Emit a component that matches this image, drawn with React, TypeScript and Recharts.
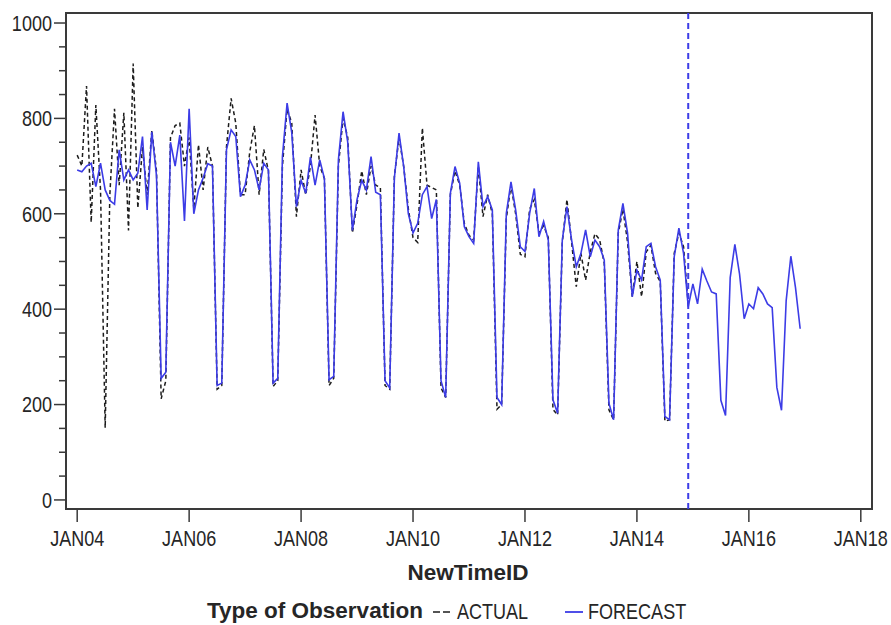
import { LineChart, Line, XAxis, YAxis, ReferenceLine, ReferenceArea } from "recharts";

// monthly values from JAN04; actual ends DEC14, forecast runs to DEC16
const actual = [
  723, 700, 868, 582, 828, 650, 151, 640, 820, 660, 812, 565,
  915, 612, 740, 640, 775, 690, 212, 250, 760, 785, 790, 700,
  760, 610, 745, 650, 740, 700, 232, 240, 740, 842, 790, 640,
  640, 730, 785, 640, 735, 690, 238, 250, 700, 820, 790, 594,
  692, 640, 700, 807, 700, 674, 240, 255, 700, 800, 760, 560,
  620, 690, 640, 700, 660, 655, 240, 232, 678, 760, 699, 610,
  550, 540, 780, 660, 655, 650, 235, 215, 640, 690, 660, 580,
  555, 545, 700, 594, 640, 600, 190, 200, 590, 660, 600, 515,
  510, 610, 630, 560, 575, 550, 190, 178, 540, 630, 540, 447,
  517, 461, 520, 558, 546, 496, 189, 168, 559, 610, 540, 426,
  500, 426, 520, 534, 475, 458, 165, 168, 517, 560, 531, 410,
];

const forecast = [
  692, 688, 700, 706, 657, 706, 650, 628, 620, 734, 671, 692,
  671, 685, 762, 608, 772, 680, 255, 268, 750, 700, 765, 585,
  820, 600, 650, 675, 705, 700, 240, 245, 734, 776, 762, 636,
  660, 713, 692, 650, 706, 692, 245, 255, 720, 832, 770, 615,
  670, 643, 719, 660, 713, 674, 252, 259, 713, 814, 750, 565,
  630, 670, 650, 720, 645, 640, 250, 235, 675, 769, 699, 600,
  560, 580, 640, 657, 590, 630, 250, 215, 643, 699, 664, 573,
  552, 538, 709, 615, 636, 608, 215, 200, 601, 667, 608, 531,
  521, 601, 653, 552, 584, 545, 210, 182, 545, 615, 545, 489,
  517, 566, 510, 545, 531, 503, 203, 168, 566, 622, 559, 426,
  482, 461, 531, 538, 489, 461, 175, 168, 510, 570, 517, 405,
  453, 411, 484, 459, 436, 432, 209, 177, 466, 536, 474, 380,
  411, 401, 445, 432, 411, 403, 236, 188, 418, 511, 445, 359,
];

const xTicks = [0, 24, 48, 72, 96, 120, 144, 168];
const xTickLabels = ["JAN04", "JAN06", "JAN08", "JAN10", "JAN12", "JAN14", "JAN16", "JAN18"];
const yTicks = [
  0, 50, 100, 150, 200, 250, 300, 350, 400, 450, 500,
  550, 600, 650, 700, 750, 800, 850, 900, 950, 1000,
];
const lastActualMonth = 131;

const data = forecast.map((f, i) => ({
  month: i,
  actual: i < actual.length ? actual[i] : null,
  forecast: f,
}));

const X_DOMAIN: [number, number] = [-2.4, 170.4];
const Y_DOMAIN: [number, number] = [-19, 1021];
const FRAME = "#3a3a3a";
const BLUE = "#3c3ce6";
const INK = "#262626";
const FONT = "Arial, 'Liberation Sans', sans-serif";

// condensed label: regular face squeezed horizontally around its anchor point
function NarrowText({ x, y, anchor = "start", dy, children }: any) {
  return (
    <text
      transform={`translate(${x} ${y}) scale(0.82 1)`}
      dy={dy}
      textAnchor={anchor}
      fontSize={22}
      fill={INK}
      fontFamily={FONT}
    >
      {children}
    </text>
  );
}

function YTick(props: any) {
  const { x, y, payload } = props;
  const major = payload.value % 200 === 0;
  return (
    <g>
      <line x1={x} x2={x - (major ? 12 : 7)} y1={y} y2={y} stroke={FRAME} strokeWidth={1.5} />
      {major && (
        <NarrowText x={x - 14} y={y} dy="0.36em" anchor="end">
          {payload.value}
        </NarrowText>
      )}
    </g>
  );
}

function XTick(props: any) {
  const { x, y, payload } = props;
  const idx = xTicks.indexOf(payload.value);
  return (
    <g>
      <line x1={x} x2={x} y1={y} y2={y + 13} stroke={FRAME} strokeWidth={1.5} />
      <NarrowText x={x} y={y + 37} anchor="middle">
        {xTickLabels[idx]}
      </NarrowText>
    </g>
  );
}

export default function App() {
  return (
    <div style={{ position: "absolute", left: 0, top: 0, width: 891, height: 625, background: "#fff" }}>
      <LineChart width={891} height={625} data={data} margin={{ top: 13, right: 19, left: 10, bottom: 76 }}>
        <XAxis
          dataKey="month"
          type="number"
          domain={X_DOMAIN}
          ticks={xTicks}
          allowDataOverflow
          axisLine={false}
          tickLine={false}
          tickSize={0}
          tickMargin={0}
          height={40}
          tick={<XTick />}
        />
        <YAxis
          type="number"
          domain={Y_DOMAIN}
          ticks={yTicks}
          allowDataOverflow
          axisLine={false}
          tickLine={false}
          tickSize={0}
          tickMargin={0}
          width={56}
          tick={<YTick />}
          interval={0}
        />
        <ReferenceArea
          x1={X_DOMAIN[0]}
          x2={X_DOMAIN[1]}
          y1={Y_DOMAIN[0]}
          y2={Y_DOMAIN[1]}
          fill="none"
          stroke={FRAME}
          strokeWidth={2}
          ifOverflow="visible"
        />
        <Line
          type="linear"
          dataKey="actual"
          stroke="#1c1c1c"
          strokeWidth={1.5}
          strokeDasharray="4 3"
          dot={false}
          isAnimationActive={false}
        />
        <Line
          type="linear"
          dataKey="forecast"
          stroke={BLUE}
          strokeWidth={1.6}
          dot={false}
          isAnimationActive={false}
        />
        <ReferenceLine x={lastActualMonth} stroke={BLUE} strokeWidth={2} strokeDasharray="6 4" />
      </LineChart>

      {/* axis title and legend row */}
      <svg width={891} height={80} style={{ position: "absolute", left: 0, top: 545 }}>
        <text x={468} y={35} textAnchor="middle" fontSize={22.5} fontWeight="bold" fill={INK} fontFamily={FONT}>
          NewTimeID
        </text>
        <text x={207} y={73} fontSize={22.5} fontWeight="bold" fill={INK} fontFamily={FONT}>
          Type of Observation
        </text>
        <line x1={433} x2={453} y1={67} y2={67} stroke="#1c1c1c" strokeWidth={1.6} strokeDasharray="7 3" />
        <NarrowText x={457} y={74}>ACTUAL</NarrowText>
        <line x1={565} x2={583} y1={67} y2={67} stroke={BLUE} strokeWidth={1.8} />
        <NarrowText x={588} y={74}>FORECAST</NarrowText>
      </svg>
    </div>
  );
}
